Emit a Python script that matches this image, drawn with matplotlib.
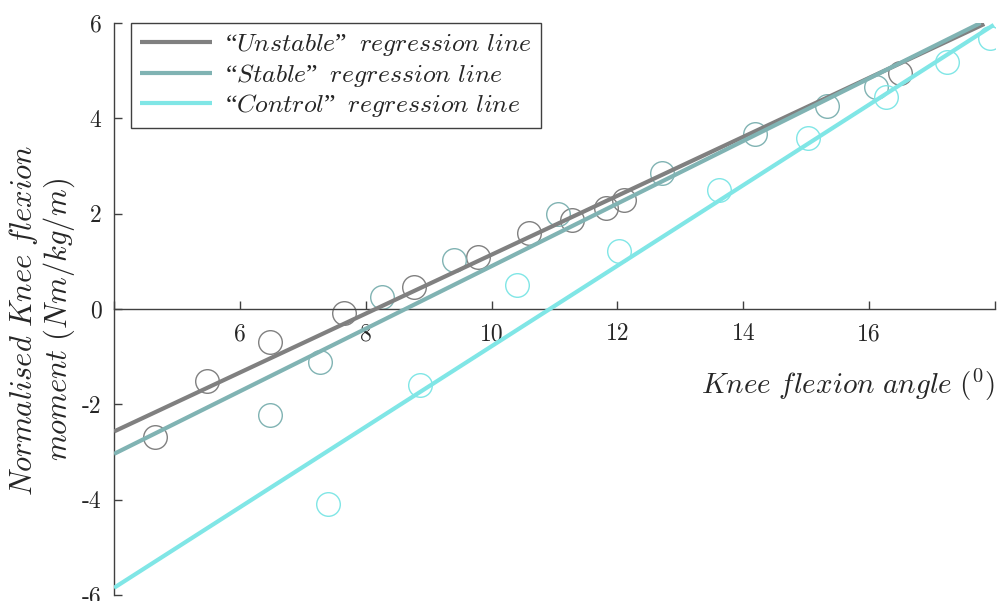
import matplotlib
matplotlib.use("Agg")
import matplotlib.pyplot as plt

plt.rcParams['mathtext.fontset'] = 'cm'
plt.rcParams['font.family'] = ['cmr10', 'DejaVu Serif']
plt.rcParams['axes.unicode_minus'] = False
plt.rcParams['axes.formatter.use_mathtext'] = False

# circles
unstable_x = [4.65, 5.48, 6.48, 7.65, 8.77, 9.79, 10.60, 11.28, 11.82, 12.10, 16.49]
unstable_y = [-2.68, -1.52, -0.69, -0.08, 0.47, 1.10, 1.59, 1.86, 2.12, 2.29, 4.96]
stable_x = [6.48, 7.27, 8.26, 9.41, 11.05, 12.71, 14.18, 15.33, 16.11]
stable_y = [-2.22, -1.12, 0.26, 1.03, 1.99, 2.85, 3.67, 4.26, 4.65]
control_x = [7.40, 8.86, 10.41, 12.03, 13.61, 15.03, 16.26, 17.24, 17.92]
control_y = [-4.09, -1.59, 0.51, 1.21, 2.50, 3.58, 4.44, 5.19, 5.69]

# regression line end points
unstable_line_x = [4.0, 17.83]
unstable_line_y = [-2.57, 5.98]
stable_line_x = [4.0, 17.77]
stable_line_y = [-3.04, 6.00]
control_line_x = [4.0, 17.98]
control_line_y = [-5.85, 5.96]

xticks = [4, 6, 8, 10, 12, 14, 16, 18]
xticklabels = ['', '6', '8', '10', '12', '14', '16', '']
yticks = [-6, -4, -2, 0, 2, 4, 6]
yticklabels = ['-6', '-4', '-2', '0', '2', '4', '6']

c_unst = '#808080'
c_stab = '#80b3b3'
c_ctrl = '#80e6e6'
txt = '#262626'

fig = plt.figure(figsize=(10.03, 6.01), dpi=100)
ax = fig.add_axes([114/1003, 6/601, 881/1003, 572/601])

ax.plot(unstable_line_x, unstable_line_y, color=c_unst, lw=3.0, solid_capstyle='butt',
        label=r'“$Unstable$”  $regression\ line$', zorder=3)
ax.plot(stable_line_x, stable_line_y, color=c_stab, lw=3.0, solid_capstyle='butt',
        label=r'“$Stable$”  $regression\ line$', zorder=3)
ax.plot(control_line_x, control_line_y, color=c_ctrl, lw=3.0, solid_capstyle='butt',
        label=r'“$Control$”  $regression\ line$', zorder=3)

ax.plot(unstable_x, unstable_y, 'o', ms=17, mfc='none', mec=c_unst, mew=1.0, zorder=2)
ax.plot(stable_x, stable_y, 'o', ms=17, mfc='none', mec=c_stab, mew=1.0, zorder=2)
ax.plot(control_x, control_y, 'o', ms=17, mfc='none', mec=c_ctrl, mew=1.0, zorder=2)

ax.set_xlim(4, 18)
ax.set_ylim(-6, 6)
ax.spines['top'].set_visible(False)
ax.spines['right'].set_visible(False)
ax.spines['bottom'].set_position(('data', 0))
ax.spines['left'].set_position(('data', 4))
for s in ['bottom', 'left']:
    ax.spines[s].set_color('#404040')
    ax.spines[s].set_linewidth(1.0)

ax.set_xticks(xticks)
ax.set_xticklabels(xticklabels)
ax.set_yticks(yticks)
ax.set_yticklabels(yticklabels)
ax.tick_params(direction='in', length=6, width=1.0, color='#404040', labelsize=17,
               labelcolor=txt)
ax.tick_params(axis='x', pad=10)
ax.tick_params(axis='y', pad=9)

ax.text(1.0, (595-385)/572, r'$Knee\ flexion\ angle\ (^0)$', transform=ax.transAxes,
        ha='right', va='center', fontsize=21, color=txt)
fig.text(42/1003, 1-320/601, "$Normalised\\ Knee\\ flexion$\n$moment\\ (Nm/kg/m)$",
         rotation=90, ha='center', va='center', multialignment='center',
         fontsize=22, color=txt, linespacing=1.05)

leg = ax.legend(loc='upper left', bbox_to_anchor=(17/881, 1.0), borderaxespad=0,
                prop={'family': 'Liberation Serif', 'size': 18.5}, handlelength=2.8,
                fancybox=False, framealpha=1, edgecolor='#404040', labelspacing=0.14,
                handletextpad=0.5, borderpad=0.35, labelcolor=txt)
leg.get_frame().set_linewidth(1.0)

fig.savefig('out.png', dpi=100)
